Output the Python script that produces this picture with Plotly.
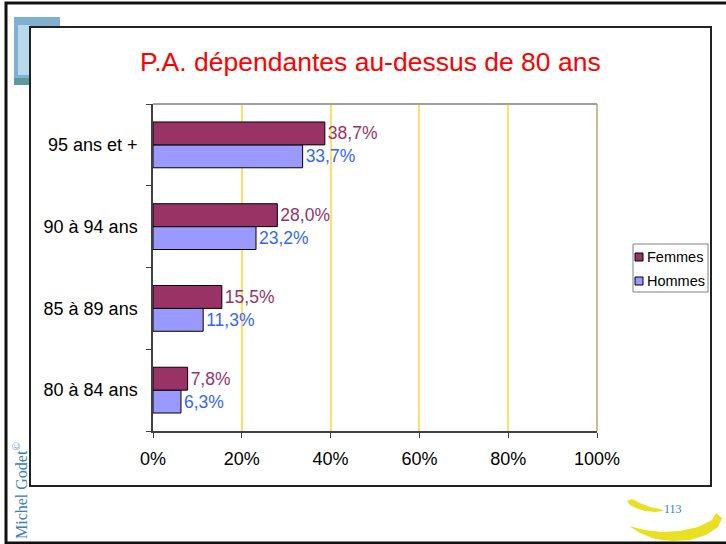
import plotly.graph_objects as go

categories = ["80 à 84 ans", "85 à 89 ans", "90 à 94 ans", "95 ans et +"]
femmes = [7.8, 15.5, 28.0, 38.7]
hommes = [6.3, 11.3, 23.2, 33.7]
x_ticks = [0, 20, 40, 60, 80, 100]
x_tick_labels = ["0%", "20%", "40%", "60%", "80%", "100%"]
title_text = "P.A. dépendantes au-dessus de 80 ans"
legend_names = ["Femmes", "Hommes"]
colors = {"Femmes": "#993366", "Hommes": "#9999FF"}

W, H = 726, 544
L, R, T, B = 153, 597, 104, 431


def px(x):
    return (x - L) / (R - L)


def py(y):
    return (B - y) / (B - T)


def fmt(v):
    return f"{v:.1f}%".replace(".", ",")


fig = go.Figure()
fig.add_trace(go.Bar(
    y=categories, x=hommes, orientation="h", name="Hommes",
    marker=dict(color=colors["Hommes"], line=dict(color="#000000", width=1)),
    text=[fmt(v) for v in hommes], textposition="outside",
    outsidetextfont=dict(color="#3366FF", size=17.5, family="Liberation Sans"),
    cliponaxis=False, hoverinfo="skip", showlegend=False,
))
fig.add_trace(go.Bar(
    y=categories, x=femmes, orientation="h", name="Femmes",
    marker=dict(color=colors["Femmes"], line=dict(color="#000000", width=1)),
    text=[fmt(v) for v in femmes], textposition="outside",
    outsidetextfont=dict(color="#993366", size=17.5, family="Liberation Sans"),
    cliponaxis=False, hoverinfo="skip", showlegend=False,
))

shapes = []
# outer frame
shapes.append(dict(type="rect", xref="paper", yref="paper",
                   x0=px(6), x1=px(740), y0=py(543), y1=py(3),
                   line=dict(color="#111111", width=3), fillcolor="white", layer="below"))
# logo image approximation
shapes.append(dict(type="rect", xref="paper", yref="paper",
                   x0=px(14), x1=px(60), y0=py(85), y1=py(17),
                   line=dict(width=0), fillcolor="#7FB0D0", layer="below"))
shapes.append(dict(type="rect", xref="paper", yref="paper",
                   x0=px(18), x1=px(30), y0=py(75), y1=py(25),
                   line=dict(width=0), fillcolor="#B8D8EC", layer="below"))
shapes.append(dict(type="rect", xref="paper", yref="paper",
                   x0=px(14), x1=px(30), y0=py(85), y1=py(78),
                   line=dict(width=0), fillcolor="#5A9A9A", layer="below"))
# inner frame
shapes.append(dict(type="rect", xref="paper", yref="paper",
                   x0=px(30), x1=px(711), y0=py(486), y1=py(27),
                   line=dict(color="#222222", width=2), fillcolor="white", layer="below"))
# plot top border and right border
shapes.append(dict(type="line", xref="paper", yref="paper",
                   x0=0, x1=1, y0=1, y1=1, line=dict(color="#A0A0A0", width=2)))
shapes.append(dict(type="line", xref="paper", yref="paper",
                   x0=1, x1=1, y0=0, y1=1, line=dict(color="#B8A868", width=1.5)))

# manual legend
shapes.append(dict(type="rect", xref="paper", yref="paper",
                   x0=px(633), x1=px(708), y0=py(292), y1=py(244),
                   line=dict(color="#808080", width=1), fillcolor="white"))
annotations = []
for i, name in enumerate(legend_names):
    cy = 257 + i * 24
    shapes.append(dict(type="rect", xref="paper", yref="paper",
                       x0=px(635), x1=px(643), y0=py(cy + 4), y1=py(cy - 4),
                       line=dict(color="#000000", width=1), fillcolor=colors[name]))
    annotations.append(dict(text=name, xref="paper", yref="paper", x=px(645), y=py(cy),
                            xanchor="left", yanchor="middle", showarrow=False,
                            font=dict(size=14.5, color="#000000", family="Liberation Sans")))


def path_px(points):
    return "M " + " L ".join(f"{px(x):.5f},{py(y):.5f}" for x, y in points) + " Z"


# yellow swooshes
shapes.append(dict(type="path", xref="paper", yref="paper",
                   path=path_px([(627, 501), (632, 499), (640, 503), (650, 507), (660, 509), (664, 511),
                                 (655, 512), (645, 511), (636, 508), (630, 505)]),
                   fillcolor="#E8E020", line=dict(width=0)))
shapes.append(dict(type="path", xref="paper", yref="paper",
                   path=path_px([(629, 526), (645, 530), (662, 532), (680, 531), (698, 527), (712, 520),
                                 (716, 513), (722, 518), (718, 527), (706, 535), (690, 540), (672, 541),
                                 (655, 539), (640, 533)]),
                   fillcolor="#E8E020", line=dict(width=0)))

annotations += [
    dict(text=title_text, xref="paper", yref="paper", x=px(370), y=py(62),
         xanchor="center", yanchor="middle", showarrow=False,
         font=dict(size=26.5, color="#FF0000", family="Liberation Sans")),
    dict(text="Michel Godet<sup>©</sup>", xref="paper", yref="paper", x=px(20), y=py(491),
         xanchor="center", yanchor="middle", showarrow=False, textangle=-90,
         font=dict(size=16, color="#3A80C0", family="Liberation Serif")),
    dict(text="113", xref="paper", yref="paper", x=px(673), y=py(509),
         xanchor="center", yanchor="middle", showarrow=False,
         font=dict(size=12, color="#3A80C0", family="Liberation Serif")),
]

fig.update_layout(
    width=W, height=H,
    margin=dict(l=L, r=W - R, t=T, b=H - B, pad=0, autoexpand=False),
    paper_bgcolor="white", plot_bgcolor="rgba(0,0,0,0)",
    barmode="group", bargap=0.44, bargroupgap=0,
    font=dict(family="Liberation Sans", color="#000000"),
    showlegend=False,
    shapes=shapes,
    annotations=annotations,
)

fig.update_xaxes(
    range=[0, 100], tickvals=x_ticks, ticktext=x_tick_labels,
    showgrid=True, gridcolor="#FFE066", gridwidth=1.5,
    showline=True, linecolor="#404040", linewidth=1.5,
    ticks="outside", ticklen=5, tickcolor="#404040",
    tickfont=dict(size=18), zeroline=False, ticklabelstandoff=6,
    fixedrange=True,
)
fig.update_yaxes(
    type="category", categoryorder="array", categoryarray=categories,
    showgrid=False, showline=True, linecolor="#404040", linewidth=1.5,
    ticks="outside", ticklen=5, tickcolor="#404040", tickson="boundaries",
    tickfont=dict(size=18), ticklabelstandoff=10, fixedrange=True,
)

fig.write_html("out.html", config={"displayModeBar": False},
               post_script="document.body.style.margin='0';document.body.style.overflow='hidden';")
